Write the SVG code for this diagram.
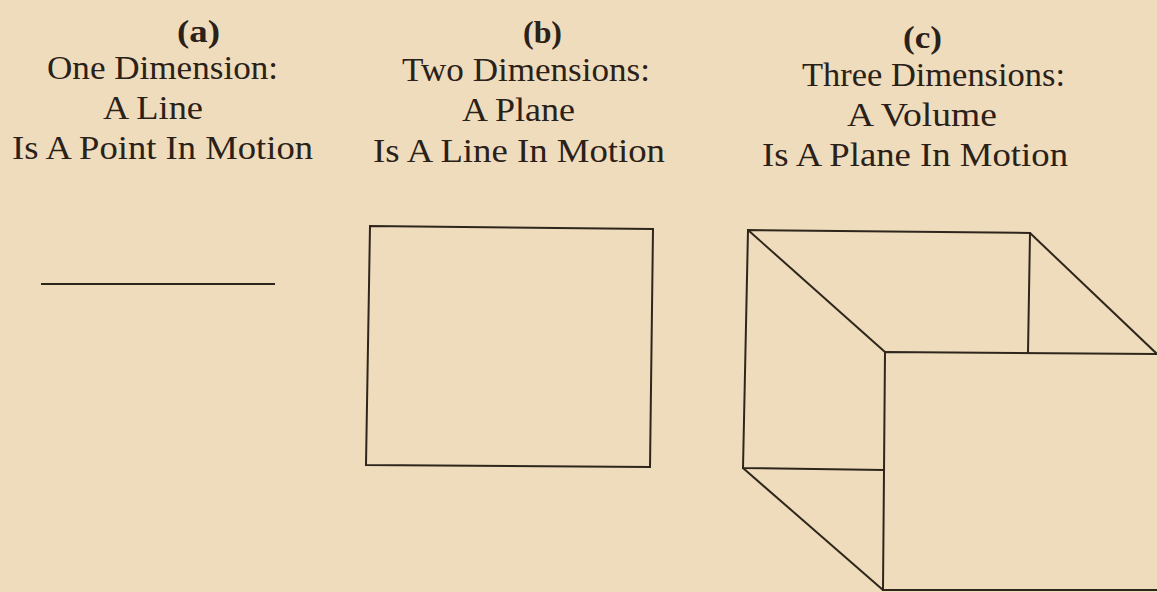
<svg xmlns="http://www.w3.org/2000/svg" width="1157" height="592" viewBox="0 0 1157 592">
<style>
text{font-family:'Liberation Serif','DejaVu Serif',serif;font-size:33px;fill:#2a2119}
.lbl{font-weight:bold;font-size:31px}
.ln{fill:none;stroke:#2e261c;stroke-width:2;stroke-linejoin:miter}
</style>
<rect width="1157" height="592" fill="#efdcbc"/>
<g id="panel-a" font-family="Liberation Serif, DejaVu Serif, serif">
<text class="lbl" x="177" y="42" textLength="43" lengthAdjust="spacingAndGlyphs">(a)</text>
<text x="47" y="79" textLength="231" lengthAdjust="spacingAndGlyphs">One Dimension:</text>
<text x="103" y="119" textLength="100" lengthAdjust="spacingAndGlyphs">A Line</text>
<text x="12" y="159" textLength="301" lengthAdjust="spacingAndGlyphs">Is A Point In Motion</text>
<line class="ln" x1="41" y1="284" x2="275" y2="284"/>
</g>
<g id="panel-b" font-family="Liberation Serif, DejaVu Serif, serif">
<text class="lbl" x="523" y="43" textLength="39" lengthAdjust="spacingAndGlyphs">(b)</text>
<text x="402" y="81" textLength="248" lengthAdjust="spacingAndGlyphs">Two Dimensions:</text>
<text x="462" y="121" textLength="113" lengthAdjust="spacingAndGlyphs">A Plane</text>
<text x="373" y="162" textLength="292" lengthAdjust="spacingAndGlyphs">Is A Line In Motion</text>
<polygon class="ln" points="370,226 653,229 650,467 366,465"/>
</g>
<g id="panel-c" font-family="Liberation Serif, DejaVu Serif, serif">
<text class="lbl" x="903" y="48" textLength="39" lengthAdjust="spacingAndGlyphs">(c)</text>
<text x="802" y="86" textLength="263" lengthAdjust="spacingAndGlyphs">Three Dimensions:</text>
<text x="847" y="126" textLength="150" lengthAdjust="spacingAndGlyphs">A Volume</text>
<text x="762" y="166" textLength="306" lengthAdjust="spacingAndGlyphs">Is A Plane In Motion</text>
<polyline class="ln" points="884,470 743,468 748,230 1030,233 1028,353"/>
<line class="ln" x1="748" y1="230" x2="885" y2="352"/>
<line class="ln" x1="1030" y1="233" x2="1157" y2="354"/>
<line class="ln" x1="743" y1="468" x2="883" y2="590"/>
<polyline class="ln" points="1160,354 885,352 883,590 1160,590"/>
</g>
</svg>
